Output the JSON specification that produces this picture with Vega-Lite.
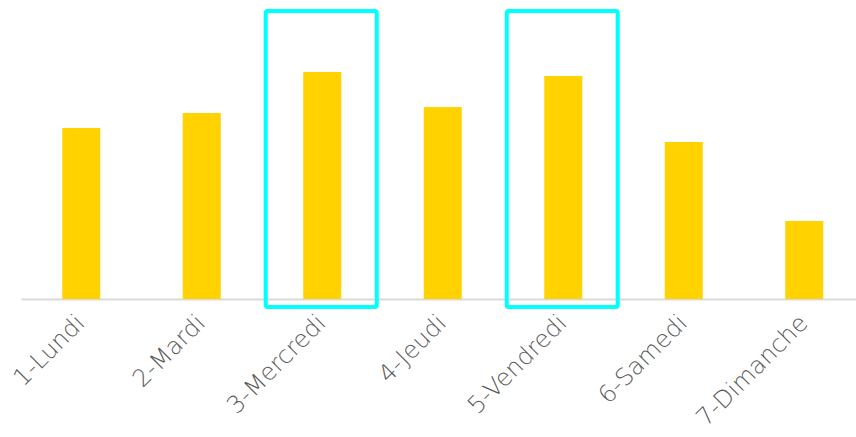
{
  "$schema": "https://vega.github.io/schema/vega-lite/v6.json",
  "autosize": {"type": "none"},
  "padding": {"left": 21, "top": 0, "right": 0, "bottom": 138},
  "width": 843.5,
  "height": 299,
  "background": "white",
  "config": {"view": {"stroke": null}},
  "datasets": {
    "days": [
      {"jour": "1-Lundi", "valeur": 171},
      {"jour": "2-Mardi", "valeur": 186},
      {"jour": "3-Mercredi", "valeur": 227},
      {"jour": "4-Jeudi", "valeur": 192},
      {"jour": "5-Vendredi", "valeur": 223},
      {"jour": "6-Samedi", "valeur": 157},
      {"jour": "7-Dimanche", "valeur": 78}
    ],
    "highlight": [
      {"jour": "3-Mercredi", "bas": -8, "haut": 288},
      {"jour": "5-Vendredi", "bas": -8, "haut": 288}
    ]
  },
  "layer": [
    {
      "data": {"name": "days"},
      "mark": {"type": "bar", "color": "#FFD200", "size": 38},
      "encoding": {
        "x": {
          "field": "jour", "type": "nominal", "sort": null,
          "scale": {"paddingInner": 0, "paddingOuter": 0},
          "axis": {
            "title": null, "ticks": false, "labelAngle": -45,
            "labelAlign": "right", "labelBaseline": "middle",
            "labelPadding": 20, "labelFont": "DejaVu Sans", "labelFontWeight": 200,
            "labelFontSize": 24, "labelColor": "#595959", "labelLimit": 300,
            "domainColor": "#d9d9d9", "domainWidth": 2
          }
        },
        "y": {
          "field": "valeur", "type": "quantitative",
          "scale": {"domain": [0, 299], "nice": false},
          "axis": null
        }
      }
    },
    {
      "data": {"name": "highlight"},
      "mark": {"type": "bar", "size": 111, "xOffset": -1, "fillOpacity": 0, "stroke": "#00FFFF", "strokeWidth": 4, "cornerRadius": 2},
      "encoding": {
        "x": {"field": "jour", "type": "nominal", "sort": null},
        "y": {"field": "bas", "type": "quantitative"},
        "y2": {"field": "haut"}
      }
    }
  ]
}
